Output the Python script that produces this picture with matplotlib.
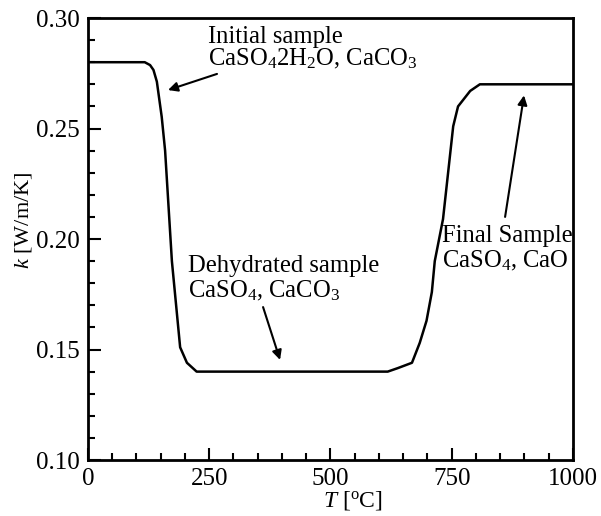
import matplotlib
matplotlib.use('Agg')
from matplotlib import pyplot as plt
from matplotlib.ticker import MultipleLocator, FormatStrFormatter

plt.rcParams['font.family'] = ['Liberation Serif', 'DejaVu Serif']
plt.rcParams['mathtext.fontset'] = 'custom'
plt.rcParams['mathtext.rm'] = 'Liberation Serif'
plt.rcParams['mathtext.it'] = 'Liberation Serif:italic'

# temperature [C] and conductivity [W/m/K]
T = [0, 117, 128, 135, 142, 152, 159, 173, 190, 204, 224, 400, 618, 639,
     668, 684, 698, 709, 715, 732, 753, 763, 788, 808, 1000]
k = [0.280, 0.280, 0.2787, 0.2765, 0.2712, 0.2553, 0.240, 0.190, 0.151,
     0.144, 0.140, 0.140, 0.140, 0.1416, 0.144, 0.153, 0.163, 0.176, 0.190,
     0.209, 0.251, 0.260, 0.267, 0.270, 0.270]

# annotation text (two lines each), text baseline positions and arrows
notes = [
    ('Initial sample', 'CaSO$_4$2H$_2$O, CaCO$_3$'),
    ('Dehydrated sample', 'CaSO$_4$, CaCO$_3$'),
    ('Final Sample', 'CaSO$_4$, CaO'),
]
note_xy = [(247, 0.2887, 0.2787), (206, 0.1851, 0.1738), (729, 0.1986, 0.1873)]
arrow_tail = [(266, 0.2747), (361, 0.1692), (860, 0.210)]
arrow_head = [(165, 0.2674), (396, 0.1453), (899, 0.265)]

fig = plt.figure(figsize=(6.01, 5.16), dpi=100)
ax = fig.add_axes([0.1464, 0.1085, 0.807, 0.8566])
ax.plot(T, k, color='k', lw=1.8)

ax.set_xlim(0, 1000)
ax.set_ylim(0.10, 0.30)
ax.xaxis.set_major_locator(MultipleLocator(250))
ax.xaxis.set_minor_locator(MultipleLocator(50))
ax.yaxis.set_major_locator(MultipleLocator(0.05))
ax.yaxis.set_minor_locator(MultipleLocator(0.01))
ax.yaxis.set_major_formatter(FormatStrFormatter('%.2f'))
ax.tick_params(which='both', direction='in', labelsize=18, width=1.5)
ax.tick_params(which='major', length=9)
ax.tick_params(which='minor', length=5)
ax.tick_params(axis='x', pad=6)
ax.tick_params(axis='y', pad=6)
for s in ax.spines.values():
    s.set_linewidth(2)

fig.text(353/601, 1-507/516, r'$T$ [$^{\rm o}$C]', fontsize=17,
         ha='center', va='baseline')
fig.text(23/601, 1-220/516, r'$k$ [W/m/K]', fontsize=16, rotation=90,
         ha='center', va='center')

fs = 17.7
for (l1, l2), (x, y1, y2), tail, head in zip(notes, note_xy, arrow_tail, arrow_head):
    ax.text(x, y1, l1, fontsize=fs, ha='left', va='baseline')
    ax.text(x, y2, l2, fontsize=fs, ha='left', va='baseline')
    ax.annotate('', xy=head, xytext=tail,
                arrowprops=dict(arrowstyle='-|>', color='k', lw=1.5,
                                mutation_scale=14, shrinkA=0, shrinkB=0))

fig.savefig('out.png', dpi=100)
